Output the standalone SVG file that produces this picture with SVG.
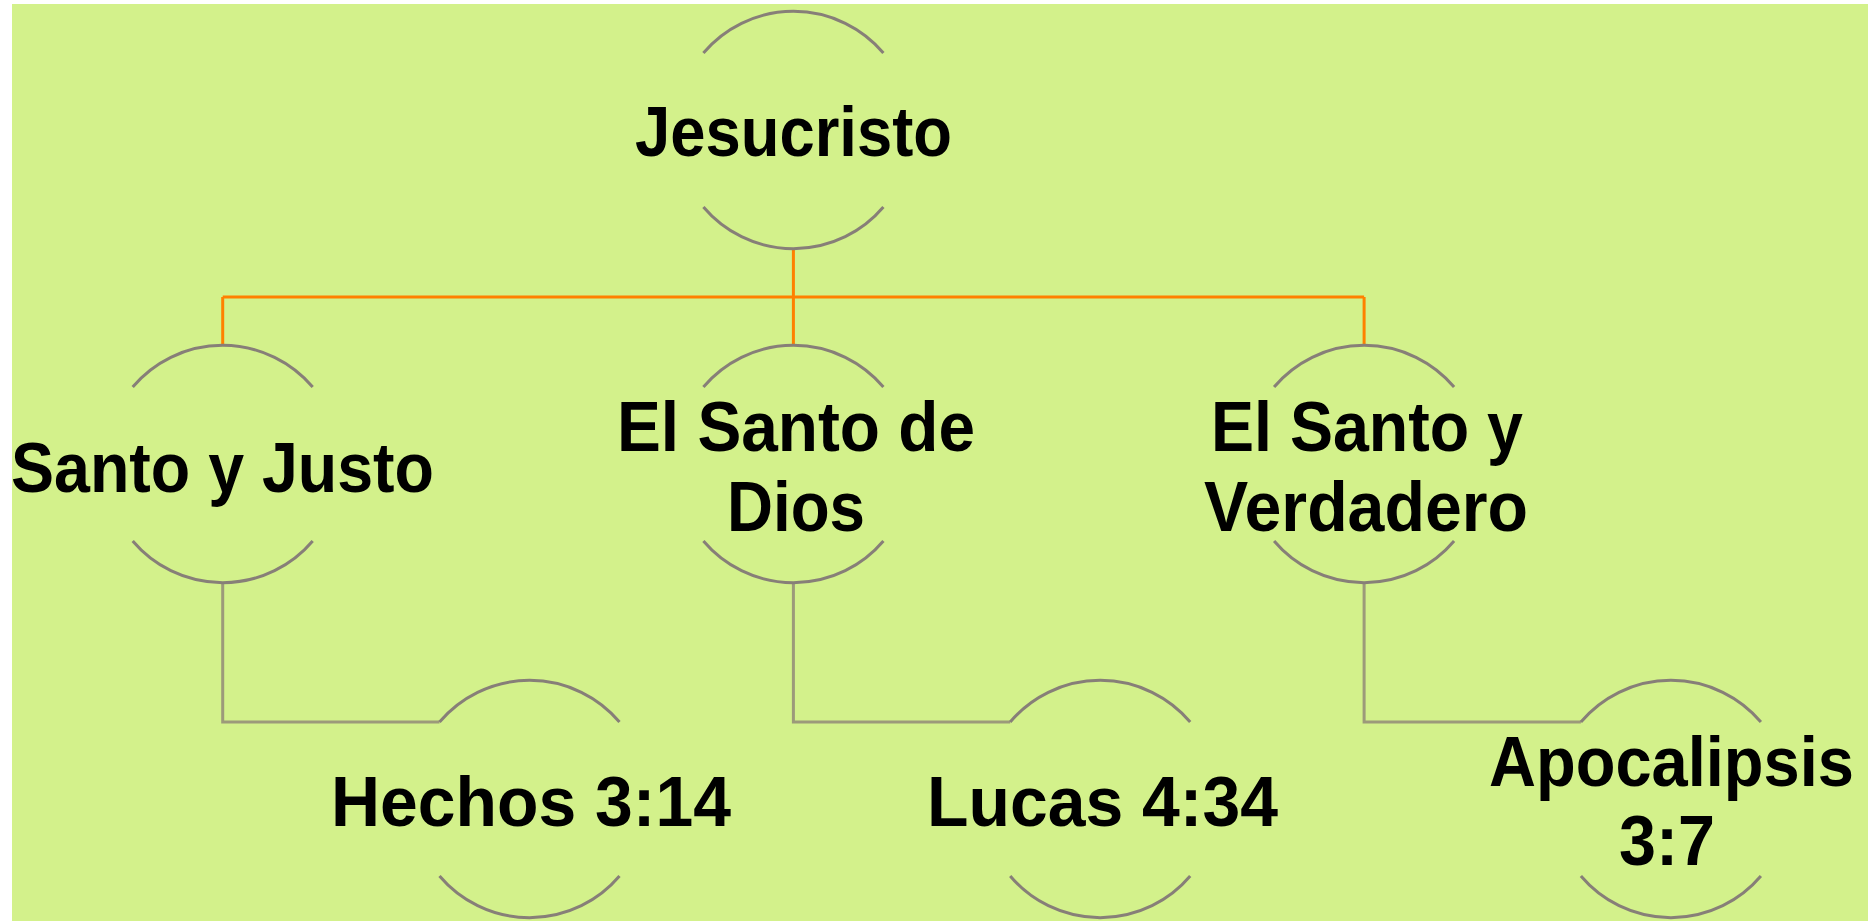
<svg xmlns="http://www.w3.org/2000/svg" width="1868" height="921" viewBox="0 0 1868 921">
<style>
.arc{fill:none;stroke:#877F78;stroke-width:3}
.lbl{font-family:"Liberation Sans",Arial,sans-serif;font-weight:bold;font-size:70px;fill:#000;text-anchor:middle}
.or{fill:none;stroke:#FF8000;stroke-width:3}
.gr{fill:none;stroke:#9C9A7A;stroke-width:3}
</style>
<rect x="12" y="4" width="1856" height="917" fill="#D3F18B"/>
<g id="connectors">
<path class="or" d="M793.4,248 V346 M222.7,297 H1364.1 M222.7,297 V346 M1364.1,297 V346"/>
<path class="gr" d="M222.7,582 V722 H439.5"/>
<path class="gr" d="M793.4,582 V722 H1010.2"/>
<path class="gr" d="M1364.1,582 V722 H1580.9"/>
</g>
<g id="n-jesucristo">
<path class="arc" d="M703.4,53 A118,118 0 0 1 883.4,53 M703.4,207 A118,118 0 0 0 883.4,207"/>
<text class="lbl" x="793.5" y="156" textLength="317" lengthAdjust="spacingAndGlyphs">Jesucristo</text>
</g>
<g id="n-santo-justo">
<path class="arc" d="M132.7,387 A118,118 0 0 1 312.7,387 M132.7,541 A118,118 0 0 0 312.7,541"/>
<text class="lbl" x="222.5" y="492" textLength="423" lengthAdjust="spacingAndGlyphs">Santo y Justo</text>
</g>
<g id="n-santo-dios">
<path class="arc" d="M703.4,387 A118,118 0 0 1 883.4,387 M703.4,541 A118,118 0 0 0 883.4,541"/>
<text class="lbl" x="796" y="451" textLength="358" lengthAdjust="spacingAndGlyphs">El Santo de</text>
<text class="lbl" x="796" y="531" textLength="138" lengthAdjust="spacingAndGlyphs">Dios</text>
</g>
<g id="n-santo-verdadero">
<path class="arc" d="M1274.1,387 A118,118 0 0 1 1454.1,387 M1274.1,541 A118,118 0 0 0 1454.1,541"/>
<text class="lbl" x="1367" y="451" textLength="312" lengthAdjust="spacingAndGlyphs">El Santo y</text>
<text class="lbl" x="1366" y="531" textLength="324" lengthAdjust="spacingAndGlyphs">Verdadero</text>
</g>
<g id="n-hechos">
<path class="arc" d="M439.5,722 A118,118 0 0 1 619.5,722 M439.5,876 A118,118 0 0 0 619.5,876"/>
<text class="lbl" x="531" y="826" textLength="400" lengthAdjust="spacingAndGlyphs">Hechos 3:14</text>
</g>
<g id="n-lucas">
<path class="arc" d="M1010.2,722 A118,118 0 0 1 1190.2,722 M1010.2,876 A118,118 0 0 0 1190.2,876"/>
<text class="lbl" x="1102.5" y="826" textLength="351" lengthAdjust="spacingAndGlyphs">Lucas 4:34</text>
</g>
<g id="n-apocalipsis">
<path class="arc" d="M1580.9,722 A118,118 0 0 1 1760.9,722 M1580.9,876 A118,118 0 0 0 1760.9,876"/>
<text class="lbl" x="1671.5" y="786" textLength="365" lengthAdjust="spacingAndGlyphs">Apocalipsis</text>
<text class="lbl" x="1667" y="865" textLength="96" lengthAdjust="spacingAndGlyphs">3:7</text>
</g>
</svg>
